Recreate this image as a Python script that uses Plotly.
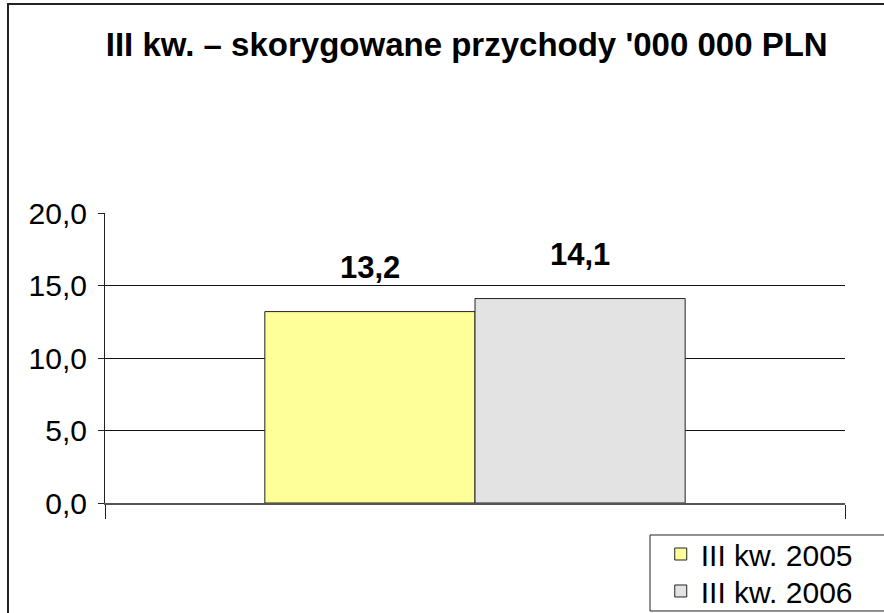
import plotly.graph_objects as go

# ---- data ----
categories = ["III kw."]
series_names = ["III kw. 2005", "III kw. 2006"]
series_values = [[13.2], [14.1]]
series_colors = ["#FFFF99", "#E3E3E3"]
y_ticks = [0, 5, 10, 15, 20]
grid_vals = [5, 10, 15]
title_text = "III kw. – skorygowane przychody '000 000 PLN"

FONT = "Liberation Sans, Arial, sans-serif"
BARGAP = 0.432

fig = go.Figure()
legends = ["legend", "legend2"]
for name, vals, col, lg in zip(series_names, series_values, series_colors, legends):
    fig.add_trace(go.Bar(
        x=categories, y=vals, name=name, legend=lg,
        marker=dict(color=col, line=dict(color="#222222", width=1)),
        hoverinfo="x+y+name",
    ))

# value labels: placed at each bar's centre (category position +/- quarter of group width)
n = len(series_names)
bar_w = (1 - BARGAP) / n
annotations = []
for i, vals in enumerate(series_values):
    for j, v in enumerate(vals):
        annotations.append(dict(
            x=j - (1 - BARGAP) / 2 + bar_w * (i + 0.5), xref="x",
            y=v, yref="y", yshift=44, yanchor="middle", showarrow=False,
            text="<b>" + f"{v:.1f}".replace(".", ",") + "</b>",
            font=dict(family=FONT, size=31, color="black"),
        ))

# hidden overlay axis to draw gridlines only at 5,10,15
fig.add_trace(go.Scatter(x=categories, y=[None], yaxis="y2", showlegend=False, hoverinfo="skip"))

legend_font = dict(family=FONT, size=30, color="black")
fig.update_layout(
    width=884, height=613,
    margin=dict(l=105, r=39, t=213, b=110, autoexpand=False),
    paper_bgcolor="white", plot_bgcolor="white",
    separators=", ",
    barmode="group", bargap=BARGAP, bargroupgap=0,
    title=dict(text="<b>" + title_text + "</b>", x=0.528, xanchor="center",
               y=0.927, yanchor="middle",
               font=dict(family=FONT, size=33, color="black")),
    xaxis=dict(type="category", showticklabels=False, ticks="outside",
               tickson="boundaries", ticklen=14, tickcolor="#222222",
               showline=True, linecolor="#555555", linewidth=2,
               showgrid=False, zeroline=False, range=[-0.5, 0.5]),
    yaxis=dict(range=[0, 20], tickvals=y_ticks, tickformat=".1f",
               ticks="outside", ticklen=6, tickcolor="#222222",
               showline=True, linecolor="#222222", linewidth=1,
               showgrid=False, zeroline=False, ticklabelstandoff=5,
               tickfont=dict(family=FONT, size=30, color="black")),
    yaxis2=dict(range=[0, 20], overlaying="y", tickvals=grid_vals,
                showticklabels=False, showgrid=True, gridcolor="#111111",
                gridwidth=1, zeroline=False, showline=False),
    legend=dict(x=0.751, xanchor="left", y=-0.1759, yanchor="middle",
                bgcolor="rgba(0,0,0,0)", borderwidth=0,
                font=legend_font, itemwidth=30),
    legend2=dict(x=0.751, xanchor="left", y=-0.3034, yanchor="middle",
                 bgcolor="rgba(0,0,0,0)", borderwidth=0,
                 font=legend_font, itemwidth=30),
    showlegend=True,
    annotations=annotations,
    shapes=[
        # outer frame
        dict(type="rect", xref="paper", yref="paper",
             x0=-0.1311, x1=1.07, y0=-0.42, y1=1.7207,
             line=dict(color="#222222", width=2), layer="below"),
        # legend box
        dict(type="rect", xref="paper", yref="paper",
             x0=0.7365, x1=1.07, y0=-0.3724, y1=-0.1103,
             line=dict(color="#222222", width=1), layer="below"),
    ],
)

fig.write_html(
    "out.html",
    config={"displayModeBar": False},
    post_script="document.body.style.margin='0';document.body.style.overflow='hidden';",
)
